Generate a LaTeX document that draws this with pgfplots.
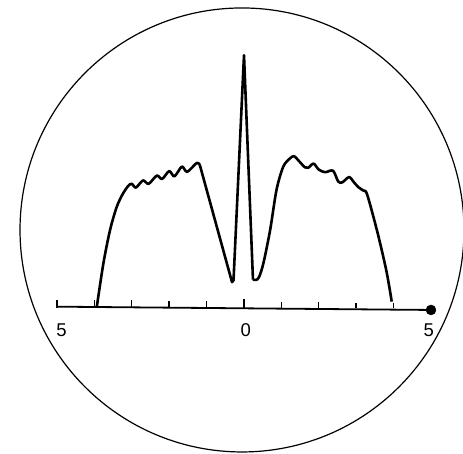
\documentclass[border=0pt]{standalone}
\usepackage{pgfplots}
\pgfplotsset{compat=1.18}
\usepackage{fontspec}
\setmainfont{Liberation Sans}

\begin{document}
\begin{tikzpicture}
\begin{axis}[
  x=37.4pt, y=37.4pt,
  xmin=-6.524, xmax=5.856,
  ymin=-3.904, ymax=8.235,
  hide axis,
  clip=true,
]
% reserve the full frame
\path (rel axis cs:0,0) rectangle (rel axis cs:1,1);

% screen outline
\draw[line width=1.2pt] (axis cs:-0.053,2.086) circle [radius=222pt];

% baseline scale from -5 to 5
\addplot[black, line width=1.8pt] coordinates {(-5,0.035) (5,-0.053)};
% tick marks
\addplot[black, line width=1.4pt, ycomb, no marks] coordinates {
  (-5,0.22) (-4,0.21) (-3,0.20) (-2,0.19) (-1,0.18)
  (0,0.25) (1,0.16) (2,0.15) (3,0.14) (4,0.13)};
% end marker
\addplot[black, only marks, mark=*, mark size=5pt] coordinates {(5,-0.053)};

% left shoulder
\addplot[black, line width=2.6pt, smooth, tension=0.5, line join=round] coordinates {
  (-3.94,0.00) (-3.76,1.19) (-3.58,2.09) (-3.40,2.71) (-3.23,3.07)
  (-3.09,3.27) (-3.00,3.32) (-2.89,3.22) (-2.70,3.41) (-2.55,3.32)
  (-2.33,3.54) (-2.19,3.45) (-2.00,3.66) (-1.86,3.52) (-1.66,3.78)
  (-1.52,3.64) (-1.26,3.88) (-1.18,3.82)};
% central dip and spike
\addplot[black, line width=2.6pt, line join=round] coordinates {
  (-1.18,3.82) (-0.32,0.69) (-0.28,0.74) (0.00,6.76) (0.24,0.76)};
% right shoulder
\addplot[black, line width=2.6pt, smooth, tension=0.5, line join=round] coordinates {
  (0.24,0.76) (0.32,0.75) (0.40,0.82) (0.52,1.20) (0.70,2.09)
  (0.87,3.16) (1.05,3.78) (1.23,4.00) (1.34,4.06) (1.45,3.95)
  (1.63,3.76) (1.72,3.75) (1.86,3.86) (2.00,3.70) (2.17,3.63)
  (2.38,3.67) (2.52,3.38) (2.63,3.36) (2.81,3.50) (2.94,3.36)
  (3.06,3.23) (3.19,3.14) (3.28,3.07) (3.46,2.44) (3.64,1.73)
  (3.82,0.93) (3.95,0.17)};

% scale labels
\node[font=\fontsize{18.5}{20}\selectfont] at (axis cs:-4.88,-0.59) {5};
\node[font=\fontsize{18.5}{20}\selectfont] at (axis cs:0.05,-0.59) {0};
\node[font=\fontsize{18.5}{20}\selectfont] at (axis cs:4.94,-0.59) {5};
\end{axis}
\end{tikzpicture}
\end{document}
